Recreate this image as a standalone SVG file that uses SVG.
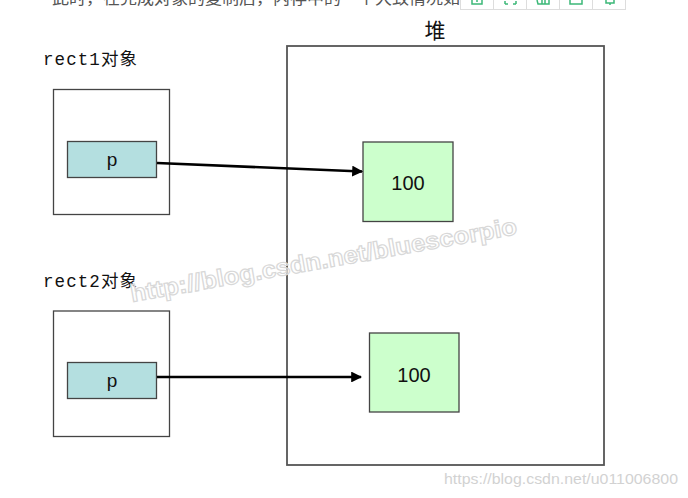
<svg xmlns="http://www.w3.org/2000/svg" width="688" height="498" viewBox="0 0 688 498">
<style>
.box{fill:#ffffff;stroke:#444;stroke-width:1.3}
.ptr{fill:#b4dfe0;stroke:#444;stroke-width:1.3}
.val{fill:#ccffcc;stroke:#444;stroke-width:1.3}
.lbl{font-family:"Liberation Mono","Noto Sans CJK SC",monospace;font-size:17.5px;fill:#111}
.t{font-family:"Liberation Sans",Arial,sans-serif;fill:#111;text-anchor:middle}
.conn{stroke:#000;stroke-width:2.6;fill:none}
.cell{fill:#fff;stroke:#ddd;stroke-width:1}
.ico{fill:none;stroke:#3cb878;stroke-width:1.5}
</style>
<defs>
<marker id="ah" viewBox="0 0 10 10" refX="9" refY="5" markerWidth="4.4" markerHeight="4.2" orient="auto" markerUnits="strokeWidth">
<path d="M0,0 L10,5 L0,10 z" fill="#000"/>
</marker>
</defs>
<rect width="688" height="498" fill="#fff"/>
<text x="52" y="4" font-family="Noto Sans CJK SC,sans-serif" font-size="16" fill="#555" textLength="408" lengthAdjust="spacingAndGlyphs">此时，在完成对象的复制后，内存中的一个大致情况如</text>
<g id="toolbar">
<rect class="cell" x="460.5" y="-2" width="33" height="11.5"/>
<rect class="cell" x="493.5" y="-2" width="33" height="11.5"/>
<rect class="cell" x="526.5" y="-2" width="33" height="11.5"/>
<rect class="cell" x="559.5" y="-2" width="33" height="11.5"/>
<rect class="cell" x="592.5" y="-2" width="33" height="11.5"/>
<path class="ico" d="M472,0 V4 H482 V0 M477,0 V2"/>
<path class="ico" d="M505,4 H508 M513,4 H516 M505,4 V1 M516,4 V1"/>
<path class="ico" d="M537,0 L538,4 H549 V0 M542,0 V4 M545,0 V4"/>
<path class="ico" d="M570,0 V4 H582 V0"/>
<path class="ico" d="M606,0 V3 H610 V5 M610,3 H614 V0"/>
</g>
<text x="435" y="38" font-family="Noto Sans CJK SC,sans-serif" font-size="21" text-anchor="middle" fill="#111">堆</text>
<g id="heap">
<rect x="287" y="46" width="317" height="419" fill="#fff" stroke="#555" stroke-width="1.8"/>
</g>
<g id="rect1">
<text class="lbl" x="43" y="65" textLength="94" lengthAdjust="spacing">rect1对象</text>
<rect class="box" x="53.5" y="89.5" width="116" height="125"/>
</g>
<g id="rect1-p">
<rect class="ptr" x="67.5" y="141.5" width="89" height="36"/>
<text class="t" x="112" y="166" font-size="19">p</text>
</g>
<g id="rect2">
<text class="lbl" x="43" y="287" textLength="94" lengthAdjust="spacing">rect2对象</text>
<rect class="box" x="53.5" y="311" width="116" height="125.5"/>
</g>
<g id="rect2-p">
<rect class="ptr" x="67.5" y="362.5" width="89" height="36"/>
<text class="t" x="112" y="387" font-size="19">p</text>
</g>
<g id="val1">
<rect class="val" x="363" y="142" width="90" height="79.5"/>
<text class="t" x="408" y="190" font-size="20">100</text>
</g>
<g id="val2">
<rect class="val" x="369.5" y="333" width="89.5" height="79"/>
<text class="t" x="414" y="382" font-size="20">100</text>
</g>
<g id="connectors">
<line class="conn" x1="157" y1="163" x2="362" y2="171.5" marker-end="url(#ah)"/>
<line class="conn" x1="157" y1="377" x2="361" y2="377" marker-end="url(#ah)"/>
</g>
<text x="0" y="0" transform="translate(132,302) rotate(-10)" font-family="Liberation Sans,Arial,sans-serif" font-weight="bold" font-size="24" fill="#fff" stroke="#d8d8d8" stroke-width="1.2" fill-opacity="0.6" textLength="392" lengthAdjust="spacingAndGlyphs">http://blog.csdn.net/bluescorpio</text>
<text x="444" y="484" font-family="Liberation Sans,Arial,sans-serif" font-size="15" fill="#d2d2d2" textLength="234" lengthAdjust="spacingAndGlyphs">https://blog.csdn.net/u011006800</text>
</svg>
